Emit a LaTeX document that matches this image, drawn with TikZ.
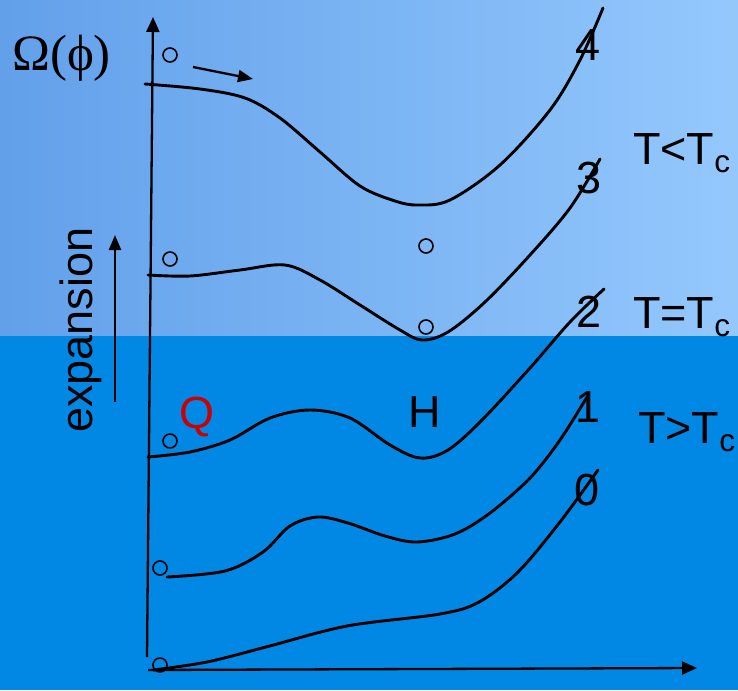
\documentclass[tikz,border=0pt]{standalone}
\usepackage{fontspec}
\setmainfont{Liberation Sans}
\newfontfamily\serifw{Liberation Serif}
\usetikzlibrary{arrows.meta}
\definecolor{topL}{HTML}{62A0EA}
\definecolor{topM}{HTML}{86BFFB}
\definecolor{topR}{HTML}{94C8FD}
\definecolor{botC}{HTML}{0088E4}
\definecolor{qred}{HTML}{CC0000}
\tikzset{
  curve/.style={line width=2.9pt, line cap=round},
  axisline/.style={line width=2.3pt, -{Triangle[length=15pt,width=13pt]}},
  dot/.style={draw, line width=1.6pt, circle, minimum size=14pt, inner sep=0pt},
  lab/.style={font=\fontsize{45}{45}\selectfont, inner sep=0pt},
}
\begin{document}
\begin{tikzpicture}[x=1pt,y=-1pt]
\useasboundingbox (0,0) rectangle (738,690);
\shade[left color=topL, middle color=topM, right color=topR] (0,0) rectangle (738,336);
\fill[botC] (0,336) rectangle (738,690);

% axes
\coordinate (o) at (148,670);
\coordinate (ytip) at (153,17);
\coordinate (xtip) at (697,668);
\coordinate (ybot) at (147,657);
\draw[axisline] (ybot) -- (ytip);
\draw[axisline] (o) -- (xtip);

% curves
\draw[curve] plot[smooth, tension=0.55] coordinates {(145,84) (200,89) (245,98) (280,118) (320,152) (360,186) (395,201) (418,205) (450,200) (500,165) (550,110) (580,60) (603,8)};
\draw[curve] plot[smooth, tension=0.55] coordinates {(148,275) (190,276) (240,270) (285,265) (320,280) (360,305) (400,330) (422,340) (448,332) (485,302) (530,255) (570,208) (600,159)};
\draw[curve] plot[smooth, tension=0.55] coordinates {(148,457) (190,452) (230,440) (270,418) (310,410) (350,418) (390,445) (420,458) (448,450) (482,420) (530,368) (570,322) (604,289)};
\draw[curve] plot[smooth, tension=0.55] coordinates {(167,577) (225,571) (263,552) (290,526) (318,517) (348,523) (385,536) (417,542) (455,534) (490,513) (530,478) (560,440) (587,397)};
\draw[curve] plot[smooth, tension=0.55] coordinates {(153,670) (207,662) (266,647) (347,626) (440,614) (479,602) (518,572) (560,522) (598,470)};

% circles
\node[dot] (c4) at (170,55) {};
\node[dot] (c3a) at (170,259) {};
\node[dot] (c3b) at (426,246) {};
\node[dot] (c3c) at (426,327) {};
\node[dot] (c2) at (170,441) {};
\node[dot] (c1) at (160,568) {};
\node[dot] (c0) at (160,665) {};

% small arrow
\coordinate (sa) at (193,67);
\coordinate (sb) at (253,79);
\draw[line width=2.3pt, -{Triangle[length=15pt,width=12pt]}] (sa) -- (sb);

% expansion arrow
\coordinate (ea) at (115,402);
\coordinate (eb) at (115,235);
\draw[line width=2.3pt, -{Triangle[length=15pt,width=12pt]}] (ea) -- (eb);

% labels
\node[lab, anchor=base west, font=\fontsize{51}{51}\selectfont] (omega) at (12,71) {\serifw Ω(ϕ)};
\node[lab] (n4) at (588,45) {4};
\node[lab] (n3) at (589,178) {3};
\node[lab] (n2) at (589,312) {2};
\node[lab] (n1) at (588,407) {1};
\node[lab] (n0) at (587,490) {0};
\node[lab, anchor=base west] (tl) at (633,164) {T<T\textsubscript{c}};
\node[lab, anchor=base west] (te) at (633,328) {T=T\textsubscript{c}};
\node[lab, anchor=base west] (tg) at (638,443) {T>T\textsubscript{c}};
\node[lab, anchor=base west, rotate=90] (exp) at (92,433) {expansion};
\node[lab, anchor=base west, text=qred] (q) at (179,428) {Q};
\node[lab, anchor=base] (h) at (425,427) {H};
\end{tikzpicture}
\end{document}
